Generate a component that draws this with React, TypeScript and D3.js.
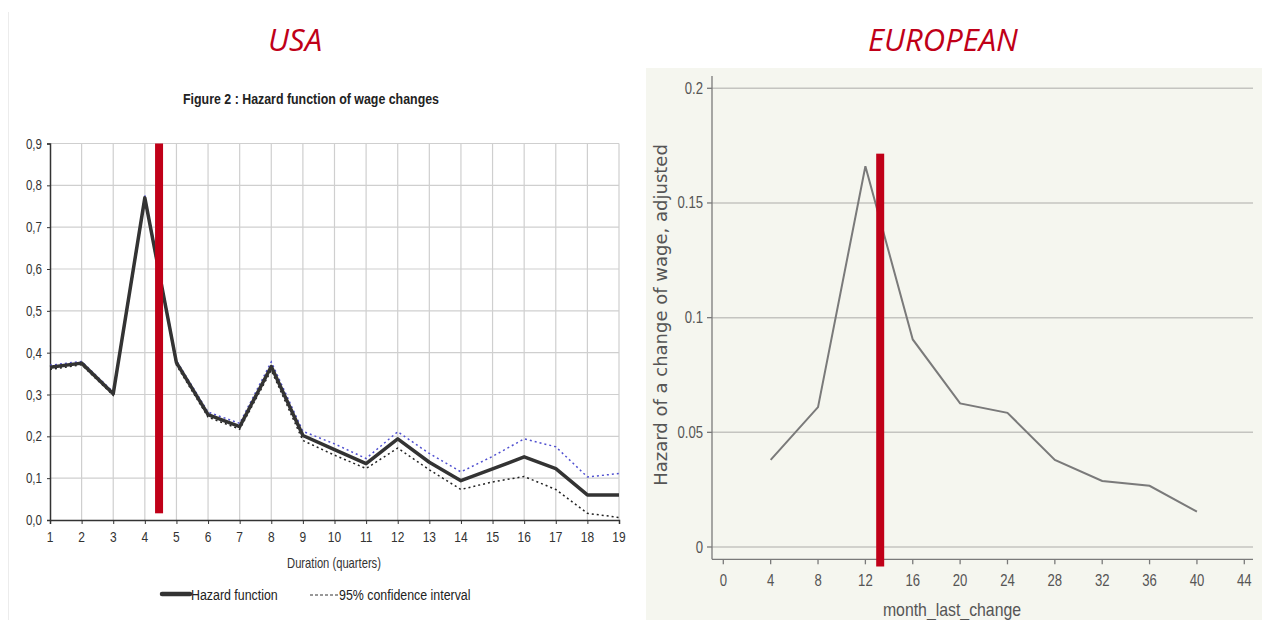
import React, { useEffect, useRef } from "react";
import * as d3 from "d3";

// page size
const WIDTH = 1263;
const HEIGHT = 620;
const RED = "#c00018";
const SANS = "'Liberation Sans', Arial, sans-serif";
const SQUEEZE = 0.8; // no narrow font installed, so Liberation Sans gets squeezed

// ---- USA panel data (quarters) ----
const QUARTERS = [1, 2, 3, 4, 5, 6, 7, 8, 9, 10, 11, 12, 13, 14, 15, 16, 17, 18, 19];
const HAZARD_USA = [0.365, 0.375, 0.302, 0.77, 0.376, 0.252, 0.223, 0.367, 0.202, 0.168, 0.135, 0.194, 0.138, 0.094, 0.122, 0.151, 0.123, 0.06, 0.06];
const UPPER_USA = [0.37, 0.379, 0.306, 0.776, 0.381, 0.258, 0.231, 0.378, 0.212, 0.182, 0.147, 0.211, 0.159, 0.115, 0.152, 0.194, 0.175, 0.103, 0.111];
const LOWER_USA = [0.36, 0.371, 0.298, 0.764, 0.37, 0.246, 0.217, 0.358, 0.19, 0.155, 0.123, 0.172, 0.12, 0.073, 0.091, 0.104, 0.073, 0.016, 0.006];
const USA_Y_TICKS = [0, 0.1, 0.2, 0.3, 0.4, 0.5, 0.6, 0.7, 0.8, 0.9];
const USA_MARKER = { x: 4.45, y0: 0.016, y1: 0.9 };

// ---- European panel data (months) ----
const MONTHS = [4, 8, 12, 16, 20, 24, 28, 32, 36, 40];
const HAZARD_EU = [0.038, 0.061, 0.166, 0.0905, 0.0626, 0.0585, 0.038, 0.0288, 0.0267, 0.0154];
const EU_X_TICKS = [0, 4, 8, 12, 16, 20, 24, 28, 32, 36, 40, 44];
const EU_Y_TICKS = [0, 0.05, 0.1, 0.15, 0.2];
const EU_Y_LABELS = ["0", "0.05", "0.1", "0.15", "0.2"];
const EU_MARKER = { x: 13.25, y0: -0.0085, y1: 0.1715 };

// scales
const X_USA = d3.scaleLinear().domain([1, 19]).range([50, 619]);
const Y_USA = d3.scaleLinear().domain([0, 0.9]).range([520, 143.5]);
const X_EU = d3.scaleLinear().domain([0, 44]).range([723.3, 1244.3]);
const Y_EU = d3.scaleLinear().domain([0, 0.2]).range([547, 88.3]);

type G = d3.Selection<SVGGElement, unknown, null, undefined>;

// text placed at (x, y) and squeezed horizontally around that anchor
const narrowText = (g: G, x: number, y: number, txt: string, size: number, opts: any = {}) =>
  g.append("text")
    .attr("transform", `translate(${x},${y}) scale(${opts.sx ?? SQUEEZE},1)`)
    .attr("text-anchor", opts.anchor ?? "start")
    .attr("font-family", SANS)
    .attr("font-weight", opts.weight ?? "normal")
    .attr("font-size", size + "px")
    .attr("fill", opts.fill ?? "#333")
    .text(txt);

function drawUSA(g: G) {
  // faint left edge of the pasted figure
  g.append("line")
    .attr("x1", 8.5).attr("x2", 8.5).attr("y1", 12).attr("y2", 620)
    .attr("stroke", "#ececec").attr("stroke-width", 1);

  g.append("text")
    .attr("x", 295).attr("y", 51)
    .attr("text-anchor", "middle")
    .attr("font-family", "'Open Sans', sans-serif")
    .attr("font-style", "italic")
    .attr("font-size", "31px")
    .attr("fill", RED)
    .text("USA");

  narrowText(g, 311, 104, "Figure 2 : Hazard function of wage changes", 15.5, { anchor: "middle", weight: "bold", fill: "#222" });

  // grid
  const [x0, x1] = X_USA.range();
  const [yb, yt] = Y_USA.range();
  g.append("g")
    .selectAll("line")
    .data(QUARTERS.slice(1))
    .join("line")
    .attr("x1", (d) => X_USA(d)).attr("x2", (d) => X_USA(d))
    .attr("y1", yt).attr("y2", yb)
    .attr("stroke", "#cfcfcf").attr("stroke-width", 1.2);
  g.append("g")
    .selectAll("line")
    .data(USA_Y_TICKS.slice(1))
    .join("line")
    .attr("x1", x0).attr("x2", x1)
    .attr("y1", (d) => Y_USA(d)).attr("y2", (d) => Y_USA(d))
    .attr("stroke", "#cfcfcf").attr("stroke-width", 1.2);

  // axes (labels drawn by hand so they can be squeezed)
  const yG = g.append("g").attr("transform", `translate(${x0},0)`)
    .call(d3.axisLeft(Y_USA).tickValues(USA_Y_TICKS).tickSize(3).tickFormat(() => ""));
  const xG = g.append("g").attr("transform", `translate(0,${yb})`)
    .call(d3.axisBottom(X_USA).tickValues(QUARTERS).tickSize(4).tickFormat(() => ""));
  [yG, xG].forEach((ax) => {
    ax.select(".domain").attr("stroke", "#333").attr("stroke-width", 1.5);
    ax.selectAll(".tick line").attr("stroke", "#333");
  });
  USA_Y_TICKS.forEach((v) =>
    narrowText(g, x0 - 8, Y_USA(v) + 5, d3.format(".1f")(v).replace(".", ","), 14.5, { anchor: "end" })
  );
  QUARTERS.forEach((q) => narrowText(g, X_USA(q), yb + 22, String(q), 15, { anchor: "middle" }));

  narrowText(g, 334, 568, "Duration (quarters)", 14, { anchor: "middle" });

  // lines
  const line = d3.line<number>().x((d, i) => X_USA(QUARTERS[i])).y((d) => Y_USA(d));
  g.append("path").attr("d", line(UPPER_USA)!)
    .attr("fill", "none").attr("stroke", "#5050d0").attr("stroke-width", 1.5).attr("stroke-dasharray", "2,3");
  g.append("path").attr("d", line(LOWER_USA)!)
    .attr("fill", "none").attr("stroke", "#222").attr("stroke-width", 1.5).attr("stroke-dasharray", "2,3");
  g.append("path").attr("d", line(HAZARD_USA)!)
    .attr("fill", "none").attr("stroke", "#333").attr("stroke-width", 3.5).attr("stroke-linejoin", "round");

  // red marker
  g.append("rect")
    .attr("x", X_USA(USA_MARKER.x) - 4).attr("width", 8)
    .attr("y", Y_USA(USA_MARKER.y1)).attr("height", Y_USA(USA_MARKER.y0) - Y_USA(USA_MARKER.y1))
    .attr("fill", RED);

  // legend
  const ly = 594;
  g.append("line").attr("x1", 162).attr("x2", 190).attr("y1", ly).attr("y2", ly)
    .attr("stroke", "#333").attr("stroke-width", 4.5).attr("stroke-linecap", "round");
  narrowText(g, 191, ly + 5.5, "Hazard function", 15.5, { fill: "#222" });
  g.append("line").attr("x1", 310).attr("x2", 339).attr("y1", ly + 1).attr("y2", ly + 1)
    .attr("stroke", "#333").attr("stroke-width", 1).attr("stroke-dasharray", "3,2");
  narrowText(g, 339, ly + 5.5, "95% confidence interval", 15.5, { fill: "#222" });
}

function drawEU(g: G) {
  g.append("text")
    .attr("x", 943).attr("y", 51)
    .attr("text-anchor", "middle")
    .attr("font-family", "'Open Sans', sans-serif")
    .attr("font-style", "italic")
    .attr("font-size", "31px")
    .attr("fill", RED)
    .text("EUROPEAN");

  // panel background
  g.append("rect").attr("x", 646).attr("y", 68).attr("width", 616).attr("height", 552).attr("fill", "#f5f6ef");

  const axisX = 712;
  const axisY = 559.3;
  const gridEnd = 1253;

  g.append("g")
    .selectAll("line")
    .data(EU_Y_TICKS)
    .join("line")
    .attr("x1", axisX).attr("x2", gridEnd)
    .attr("y1", (d) => Y_EU(d)).attr("y2", (d) => Y_EU(d))
    .attr("stroke", "#c4c4c0").attr("stroke-width", 1.5);

  // y axis
  g.append("line").attr("x1", axisX).attr("x2", axisX).attr("y1", 76).attr("y2", axisY)
    .attr("stroke", "#7a7a7a").attr("stroke-width", 1.3);
  g.append("g")
    .selectAll("line")
    .data(EU_Y_TICKS)
    .join("line")
    .attr("x1", axisX - 5).attr("x2", axisX)
    .attr("y1", (d) => Y_EU(d)).attr("y2", (d) => Y_EU(d))
    .attr("stroke", "#7a7a7a").attr("stroke-width", 1.3);
  EU_Y_TICKS.forEach((v, i) =>
    narrowText(g, axisX - 9, Y_EU(v) + 5.5, EU_Y_LABELS[i], 16, { anchor: "end", fill: "#555", sx: 0.82 })
  );

  // x axis
  g.append("line").attr("x1", axisX).attr("x2", gridEnd).attr("y1", axisY).attr("y2", axisY)
    .attr("stroke", "#7a7a7a").attr("stroke-width", 1.3);
  g.append("g")
    .selectAll("line")
    .data(EU_X_TICKS)
    .join("line")
    .attr("x1", (d) => X_EU(d)).attr("x2", (d) => X_EU(d))
    .attr("y1", axisY).attr("y2", axisY + 5)
    .attr("stroke", "#7a7a7a").attr("stroke-width", 1.3);
  EU_X_TICKS.forEach((m) =>
    narrowText(g, X_EU(m), 586, String(m), 16, { anchor: "middle", fill: "#555", sx: 0.82 })
  );

  narrowText(g, 952, 616, "month_last_change", 18, { anchor: "middle", fill: "#555", sx: 0.88 });

  g.append("text")
    .attr("transform", "translate(667,315) rotate(-90)")
    .attr("text-anchor", "middle")
    .attr("font-family", "'DejaVu Sans', sans-serif").attr("font-size", "18px").attr("fill", "#555")
    .text("Hazard of a change of wage, adjusted");

  const line = d3.line<number>().x((d, i) => X_EU(MONTHS[i])).y((d) => Y_EU(d));
  g.append("path").attr("d", line(HAZARD_EU)!)
    .attr("fill", "none").attr("stroke", "#7a7a7a").attr("stroke-width", 2);

  g.append("rect")
    .attr("x", X_EU(EU_MARKER.x) - 4).attr("width", 8)
    .attr("y", Y_EU(EU_MARKER.y1)).attr("height", Y_EU(EU_MARKER.y0) - Y_EU(EU_MARKER.y1))
    .attr("fill", RED);
}

export default function App() {
  const ref = useRef<SVGSVGElement>(null);

  useEffect(() => {
    const svg = d3.select(ref.current!);
    svg.selectAll("*").remove();
    svg.append("rect").attr("width", WIDTH).attr("height", HEIGHT).attr("fill", "#fff");
    drawUSA(svg.append("g").attr("class", "usa"));
    drawEU(svg.append("g").attr("class", "eu"));
  }, []);

  return (
    <div style={{ position: "absolute", left: 0, top: 0 }}>
      <svg ref={ref} width={WIDTH} height={HEIGHT} style={{ display: "block" }} />
    </div>
  );
}
